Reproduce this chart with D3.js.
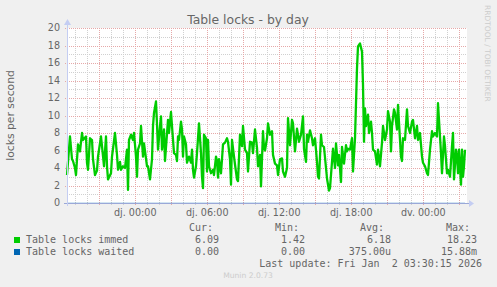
<!DOCTYPE html>
<html lang="ca">
<head>
<meta charset="UTF-8">
<title>Table locks - by day</title>
<script src="https://d3js.org/d3.v7.min.js"></script>
<style>
  body { margin: 0; background: #f0f0f0; }
  svg { display: block; }
  text { fill: #666666; font-family: "DejaVu Sans", sans-serif; }
  .mono { font-family: "DejaVu Sans Mono", monospace; font-size: 10px; white-space: pre; }
</style>
</head>
<body>
<script>
// window: 400 samples of 5 minutes, ending on Fri Jan 2 2026
var windowStart = new Date(Date.UTC(2025, 11, 31, 18, 18, 36));
var windowSteps = 400;

// sample number (5 min step from window start) and value, Table locks immed
var sampleSteps = [
  0, 3, 5, 6, 8, 9, 11, 13, 15, 16,
  19, 20, 21, 23, 25, 26, 28, 30, 31, 34,
  35, 37, 39, 40, 41, 44, 45, 48, 50, 51,
  53, 54, 56, 58, 60, 61, 62, 64, 66, 67,
  69, 70, 71, 73, 74, 76, 77, 80, 81, 83,
  85, 86, 87, 89, 90, 91, 93, 94, 95, 97,
  98, 101, 102, 104, 105, 107, 109, 110, 111, 112,
  114, 115, 116, 117, 119, 120, 122, 124, 125, 126,
  127, 129, 130, 132, 134, 135, 136, 137, 139, 140,
  141, 142, 144, 146, 147, 149, 150, 151, 152, 154,
  155, 156, 158, 160, 161, 163, 164, 165, 167, 168,
  170, 171, 173, 175, 176, 178, 180, 181, 183, 185,
  186, 188, 190, 191, 193, 194, 196, 197, 198, 200,
  201, 203, 205, 206, 208, 210, 211, 213, 215, 216,
  218, 220, 221, 223, 225, 226, 228, 230, 231, 232,
  234, 236, 237, 239, 240, 241, 243, 245, 246, 248,
  250, 251, 252, 254, 255, 257, 259, 260, 262, 263,
  265, 266, 268, 269, 271, 272, 274, 275, 277, 279,
  280, 281, 283, 285, 286, 288, 290, 291, 293, 295,
  296, 297, 298, 299, 301, 302, 304, 305, 306, 308,
  310, 311, 313, 315, 316, 318, 320, 321, 323, 324,
  325, 327, 328, 330, 331, 333, 334, 335, 336, 338,
  340, 341, 343, 345, 346, 348, 350, 351, 353, 355,
  356, 358, 360, 361, 363, 365, 366, 368, 370, 371,
  373, 374, 375, 377, 378, 380, 381, 383, 385, 386,
  387, 389, 390, 391, 392, 394, 395, 396, 397, 398
];
var immedValues = [
  3.2, 7.6, 5.0, 4.8, 4.0, 3.2, 6.7, 5.9, 8.0, 7.2,
  7.6, 4.6, 3.8, 7.4, 7.2, 5.0, 3.2, 3.7, 5.3, 7.6,
  6.5, 4.2, 7.6, 4.2, 2.7, 3.4, 5.3, 8.0, 5.5, 3.8,
  4.7, 3.8, 4.2, 4.0, 6.1, 1.5, 7.2, 7.8, 7.2, 8.0,
  5.3, 3.0, 6.1, 6.8, 8.8, 5.3, 6.8, 4.2, 4.2, 2.7,
  5.0, 8.8, 10.3, 11.6, 9.0, 6.1, 8.8, 9.9, 6.1, 8.4,
  4.8, 9.5, 8.0, 10.4, 8.8, 5.7, 5.5, 4.8, 7.6, 7.2,
  9.3, 8.4, 5.3, 7.6, 6.7, 4.6, 5.3, 4.6, 6.1, 3.8,
  2.9, 4.2, 5.7, 9.1, 5.7, 3.0, 1.7, 7.8, 7.4, 3.6,
  7.2, 4.2, 3.4, 3.8, 3.2, 5.3, 4.8, 2.9, 5.0, 3.4,
  5.0, 6.7, 6.9, 7.4, 7.0, 5.0, 2.1, 7.2, 5.3, 4.4,
  2.7, 2.5, 7.8, 6.5, 8.8, 6.1, 5.7, 3.6, 7.0, 6.9,
  5.7, 8.4, 6.3, 4.2, 5.5, 1.9, 8.2, 6.3, 6.0, 7.4,
  9.1, 7.8, 8.2, 5.5, 4.5, 4.3, 3.2, 5.0, 5.1, 3.6,
  3.0, 4.0, 9.7, 6.6, 9.5, 9.1, 5.9, 8.5, 7.8, 7.0,
  7.8, 9.9, 6.2, 4.7, 7.8, 7.0, 8.3, 7.4, 6.6, 7.4,
  4.7, 3.0, 2.8, 7.8, 6.6, 6.4, 4.0, 2.8, 1.42, 1.7,
  4.7, 6.2, 4.0, 6.8, 4.3, 5.5, 2.4, 6.4, 4.5, 6.6,
  5.9, 6.2, 6.1, 7.4, 3.6, 7.4, 15.4, 17.9, 18.23, 17.3,
  13.5, 7.0, 10.8, 8.8, 10.1, 8.0, 9.3, 8.0, 6.1, 5.9,
  4.4, 6.1, 4.2, 6.9, 8.8, 7.2, 8.4, 10.5, 9.3, 5.9,
  8.8, 10.7, 10.3, 8.4, 11.2, 7.2, 5.3, 4.8, 7.4, 7.2,
  10.7, 8.8, 8.0, 9.3, 9.5, 7.4, 8.8, 7.2, 8.0, 5.3,
  4.6, 4.2, 3.4, 3.2, 6.1, 8.2, 7.6, 8.0, 7.6, 11.4,
  7.6, 5.7, 3.4, 7.6, 6.5, 3.4, 3.8, 3.0, 6.5, 8.0,
  2.7, 6.1, 5.3, 3.4, 6.1, 2.1, 6.1, 3.0, 4.2, 6.09
];
// Table locks waited stays at 0 on this scale
var waitedSteps = [0, 398];
var waitedValues = [0, 0];

var yTicks = [0, 2, 4, 6, 8, 10, 12, 14, 16, 18, 20];
var dayNames = ["dg.", "dl.", "dt.", "dc.", "dj.", "dv.", "ds."];

var seriesNames = ["Table locks immed", "Table locks waited"];
var seriesColors = ["#00cc00", "#0066b3"];
var curText = ["6.09", "0.00"];
var minText = ["1.42", "0.00"];
var avgText = ["6.18", "375.00u"];
var maxText = ["18.23", "15.88m"];
var lastUpdate = "Last update: Fri Jan  2 03:30:15 2026";

var W = 497, H = 287;
var plot = {left: 67, right: 467, top: 28, bottom: 203};

var svg = d3.select("body").append("svg")
    .attr("width", W).attr("height", H);

svg.append("rect").attr("width", W).attr("height", H).attr("fill", "#f0f0f0");
svg.append("rect")
    .attr("x", plot.left).attr("y", plot.top)
    .attr("width", plot.right - plot.left).attr("height", plot.bottom - plot.top)
    .attr("fill", "#ffffff");

function stepTime(s) { return new Date(windowStart.getTime() + s * 300000); }

var x = d3.scaleUtc()
    .domain([windowStart, stepTime(windowSteps)])
    .range([plot.left, plot.right]);
var y = d3.scaleLinear().domain([0, 20]).range([plot.bottom, plot.top]);

// grid
var grid = svg.append("g").attr("shape-rendering", "crispEdges");
grid.selectAll(".hmin").data(y.ticks(20)).enter().append("line")
    .attr("x1", plot.left).attr("x2", plot.right)
    .attr("y1", function(d) { return Math.round(y(d)) + 0.5; })
    .attr("y2", function(d) { return Math.round(y(d)) + 0.5; })
    .attr("stroke", "#d0d0d0").attr("stroke-dasharray", "1,1");
grid.selectAll(".vmin").data(x.ticks(d3.utcHour.every(1))).enter().append("line")
    .attr("x1", function(d) { return Math.round(x(d)) + 0.5; })
    .attr("x2", function(d) { return Math.round(x(d)) + 0.5; })
    .attr("y1", plot.top).attr("y2", plot.bottom + 2)
    .attr("stroke", "#d0d0d0").attr("stroke-dasharray", "1,1");
grid.selectAll(".hmaj").data(yTicks).enter().append("line")
    .attr("x1", plot.left - 2).attr("x2", plot.right)
    .attr("y1", function(d) { return Math.round(y(d)) + 0.5; })
    .attr("y2", function(d) { return Math.round(y(d)) + 0.5; })
    .attr("stroke", "#e6a8a8").attr("stroke-dasharray", "1,1");
grid.selectAll(".vmaj").data(x.ticks(d3.utcHour.every(3))).enter().append("line")
    .attr("x1", function(d) { return Math.round(x(d)) + 0.5; })
    .attr("x2", function(d) { return Math.round(x(d)) + 0.5; })
    .attr("y1", plot.top).attr("y2", plot.bottom + 3)
    .attr("stroke", "#e6a8a8").attr("stroke-dasharray", "1,1");

// tick labels
svg.append("g").selectAll("text").data(yTicks).enter().append("text")
    .attr("x", 60).attr("y", function(d) { return y(d); })
    .attr("dy", "0.36em").attr("text-anchor", "end")
    .style("font-size", "9.6px")
    .text(function(d) { return d; });

var fmtHM = d3.utcFormat("%H:%M");
svg.append("g").selectAll("text").data(x.ticks(d3.utcHour.every(6))).enter().append("text")
    .attr("x", function(d) { return x(d); }).attr("y", 216)
    .attr("text-anchor", "middle")
    .style("font-size", "9.6px")
    .text(function(d) { return dayNames[d.getUTCDay()] + " " + fmtHM(d); });

// series
var line = d3.line()
    .x(function(d) { return x(stepTime(d[0])); })
    .y(function(d) { return y(d[1]); });

svg.append("path")
    .datum(d3.zip(waitedSteps, waitedValues))
    .attr("fill", "none").attr("stroke", seriesColors[1]).attr("stroke-opacity", 0.35)
    .attr("stroke-width", 1.2).attr("d", line);

svg.append("path")
    .datum(d3.zip(sampleSteps, immedValues))
    .attr("fill", "none").attr("stroke", seriesColors[0])
    .attr("stroke-width", 2.3).attr("stroke-linejoin", "round")
    .attr("d", line);

// axes and arrows
var axisColor = "#c4cdf2";
svg.append("line")
    .attr("x1", plot.left - 3).attr("x2", plot.right + 2)
    .attr("y1", plot.bottom + 0.5).attr("y2", plot.bottom + 0.5)
    .attr("stroke", "#9aa8d8");
svg.append("line")
    .attr("x1", plot.left + 0.5).attr("x2", plot.left + 0.5)
    .attr("y1", plot.bottom + 3).attr("y2", plot.top - 3)
    .attr("stroke", axisColor);
svg.append("path")
    .attr("d", d3.line()([[plot.right + 2, plot.bottom - 3], [plot.right + 7, plot.bottom + 0.5], [plot.right + 2, plot.bottom + 4]]) + "Z")
    .attr("fill", axisColor);
svg.append("path")
    .attr("d", d3.line()([[plot.left - 3, plot.top - 3], [plot.left + 0.5, plot.top - 9], [plot.left + 4, plot.top - 3]]) + "Z")
    .attr("fill", axisColor);

// titles
svg.append("text").attr("x", 248).attr("y", 24).attr("text-anchor", "middle")
    .style("font-size", "12.4px").text("Table locks - by day");
svg.append("text")
    .attr("transform", "translate(14," + ((plot.top + plot.bottom) / 2) + ") rotate(-90)")
    .attr("text-anchor", "middle").style("font-size", "10.8px")
    .text("locks per second");
svg.append("text")
    .attr("transform", "translate(485,5) rotate(90)")
    .style("font-size", "7.5px").style("fill", "#cccccc")
    .text("RRDTOOL / TOBI OETIKER");

// legend
var heads = [["Cur:", 213], ["Min:", 299], ["Avg:", 384], ["Max:", 470]];
svg.append("g").selectAll("text").data(heads).enter().append("text")
    .attr("class", "mono").attr("x", function(d) { return d[1]; }).attr("y", 231)
    .attr("text-anchor", "end").text(function(d) { return d[0]; });

var cols = [[curText, 219], [minText, 305], [avgText, 391], [maxText, 477]];
seriesNames.forEach(function(name, i) {
  var yy = 243 + i * 12;
  svg.append("rect").attr("x", 14).attr("y", yy - 6).attr("width", 6).attr("height", 6)
      .attr("fill", seriesColors[i]);
  svg.append("text").attr("class", "mono").attr("x", 26).attr("y", yy).text(name);
  cols.forEach(function(c) {
    svg.append("text").attr("class", "mono").attr("x", c[1]).attr("y", yy)
        .attr("text-anchor", "end").text(c[0][i]);
  });
});
svg.append("text").attr("class", "mono").attr("x", 482).attr("y", 267)
    .attr("text-anchor", "end").text(lastUpdate);
svg.append("text").attr("x", 248).attr("y", 278).attr("text-anchor", "middle")
    .style("font-size", "7.6px").style("fill", "#cccccc").text("Munin 2.0.73");
</script>
</body>
</html>
